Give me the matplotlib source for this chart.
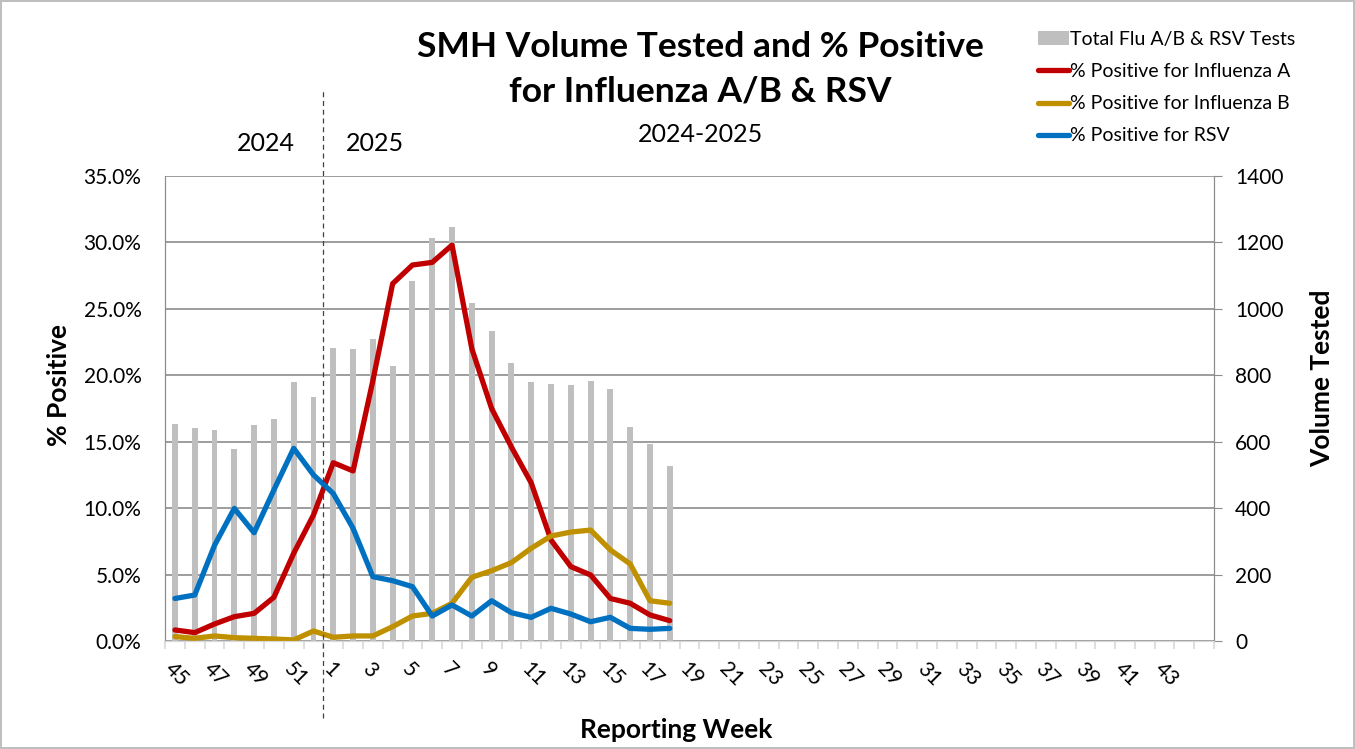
import matplotlib.pyplot as plt
import numpy as np

# reporting weeks: 45-52 of 2024, then 1-45 of 2025
weeks = list(range(45, 53)) + list(range(1, 46))

volume = [653, 640, 634, 577, 649, 668, 781, 735,
          881, 880, 910, 828, 1085, 1214, 1246, 1019, 933, 838, 780,
          774, 771, 784, 760, 645, 592, 528]
flu_a = [0.83, 0.63, 1.28, 1.83, 2.08, 3.29, 6.6, 9.48,
         13.42, 12.8, 19.6, 26.9, 28.3, 28.5, 29.8, 22.0, 17.5, 14.6, 11.9,
         7.6, 5.6, 4.97, 3.2, 2.84, 1.96, 1.53]
flu_b = [0.33, 0.2, 0.38, 0.25, 0.2, 0.15, 0.08, 0.75,
         0.28, 0.38, 0.38, 1.08, 1.88, 2.08, 2.84, 4.8, 5.29, 5.9, 6.98,
         7.9, 8.2, 8.35, 6.85, 5.8, 3.03, 2.84]
rsv = [3.2, 3.46, 7.2, 9.98, 8.15, 11.37, 14.5, 12.5,
       11.1, 8.48, 4.84, 4.54, 4.09, 1.88, 2.71, 1.88, 3.03, 2.13, 1.78,
       2.46, 2.03, 1.45, 1.78, 0.95, 0.88, 0.95]

plt.rcParams['font.family'] = ['Lato', 'DejaVu Sans']

fig = plt.figure(figsize=(13.55, 7.49), dpi=100)
fig.patch.set_edgecolor('#BFBFBF')
fig.patch.set_linewidth(1.5)
ax2 = fig.add_axes([0.1218, 0.1442, 0.7742, 0.6208])
ax = ax2.twinx()

x = np.arange(len(weeks))
n = len(volume)

# bars on the right (volume) axis, lines on top
ax2.bar(x[:n], volume, width=0.3, color='#BFBFBF', label='Total Flu A/B & RSV Tests', zorder=2)
ax2.set_ylim(0, 1400)
ax2.set_yticks(range(0, 1401, 200))
ax2.grid(axis='y', color='#8C8C8C', linewidth=1.2, zorder=0)
ax2.set_axisbelow(True)

ax.plot(x[:n], flu_a, color='#C00000', lw=3.8, solid_capstyle='round', label='% Positive for Influenza A')
ax.plot(x[:n], flu_b, color='#BF9000', lw=3.8, solid_capstyle='round', label='% Positive for Influenza B')
ax.plot(x[:n], rsv, color='#0070C0', lw=3.8, solid_capstyle='round', label='% Positive for RSV')
ax.set_ylim(0, 35)
ax.set_xlim(-0.5, len(weeks) - 0.5)

# left axis shows % positive, right shows volume
ax.yaxis.tick_left()
ax.yaxis.set_label_position('left')
ax2.yaxis.tick_right()
ax2.yaxis.set_label_position('right')
ax.set_yticks(np.arange(0, 36, 5))
ax.set_yticklabels([f'{v:.1f}%' for v in np.arange(0, 36, 5)], fontsize=15)
ax2.set_yticklabels([str(v) for v in range(0, 1401, 200)], fontsize=15)

ax2.set_xticks(x[:-1:2])
ax2.set_xticklabels([str(w) for w in weeks[:-1:2]], rotation=-45, ha='left', va='top',
                    rotation_mode='anchor', fontsize=15)
ax2.set_xticks(np.arange(-0.5, len(weeks), 1), minor=True)
ax2.tick_params(axis='x', which='major', length=0, pad=13)
ax2.tick_params(axis='x', which='minor', length=6, color='#D9D9D9', width=1.2)
ax.tick_params(axis='y', length=0, pad=17)
ax2.tick_params(axis='y', length=6, color='#8C8C8C', pad=9)

for a in (ax, ax2):
    for s in a.spines.values():
        s.set_color('#8C8C8C')
    a.spines['bottom'].set_color('#D9D9D9')
    a.spines['top'].set_visible(False)

ax.set_ylabel('% Positive', fontsize=19, fontweight='bold')
ax.yaxis.set_label_coords(-0.09, 0.55)
ax2.set_ylabel('Volume Tested', fontsize=19, fontweight='bold')
ax2.yaxis.set_label_coords(1.092, 0.565)
ax2.set_xlabel('Reporting Week', fontsize=19, fontweight='bold')
ax2.xaxis.set_label_coords(0.487, -0.165)

# year divider
ax.axvline(7.5, ymin=-0.166, ymax=1.19, color='#404040', lw=0.9, ls=(0, (4, 3)), clip_on=False)

fig.text(0.517, 0.958, 'SMH Volume Tested and % Positive\nfor Influenza A/B & RSV', ha='center', va='top',
         fontsize=25.5, fontweight='bold', linespacing=1.45)
fig.text(0.517, 0.82, '2024-2025', ha='center', va='center', fontsize=18)
fig.text(0.196, 0.809, '2024', ha='center', va='center', fontsize=18)
fig.text(0.277, 0.809, '2025', ha='center', va='center', fontsize=18)

h1, l1 = ax2.get_legend_handles_labels()
h2, l2 = ax.get_legend_handles_labels()
fig.legend(h1 + h2, l1 + l2, loc='upper left', bbox_to_anchor=(0.760, 0.969), frameon=False,
           fontsize=14, handlelength=1.6, handletextpad=0.05, labelspacing=0.78, borderaxespad=0)

fig.savefig('out.png', dpi=100)
